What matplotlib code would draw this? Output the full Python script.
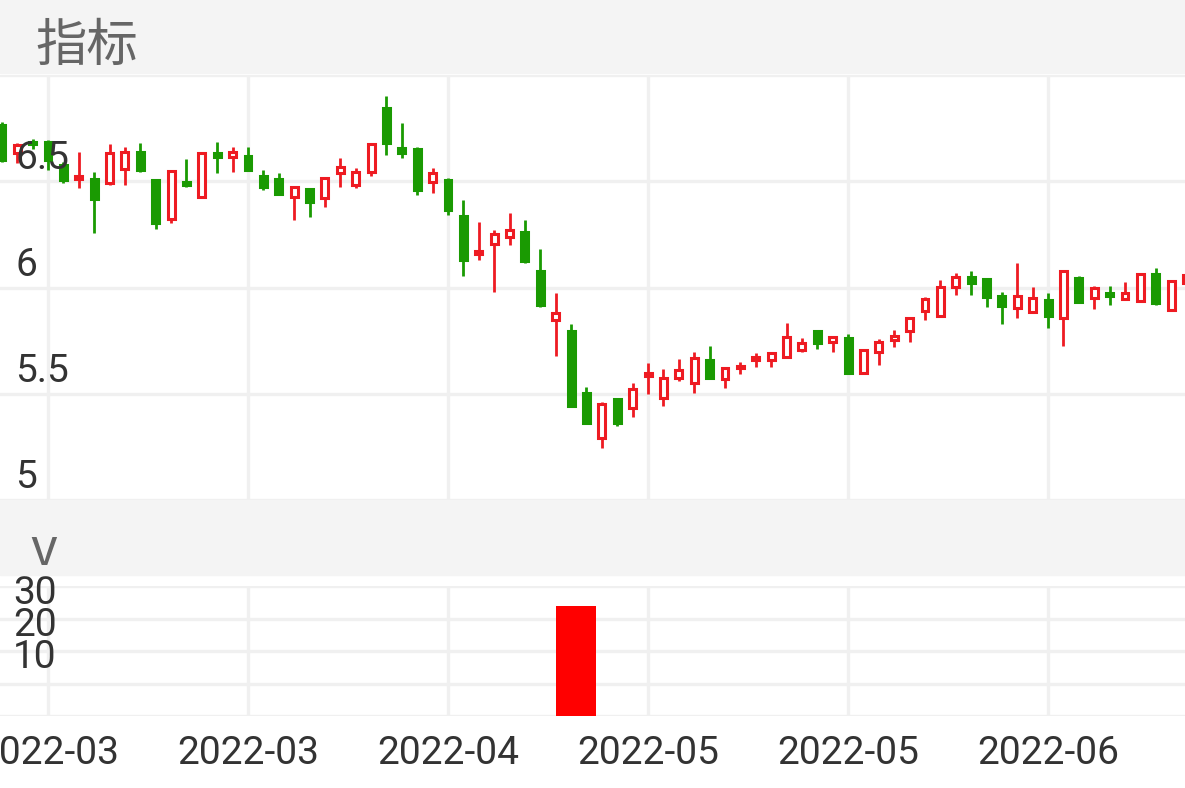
import matplotlib
matplotlib.use("Agg")
import matplotlib.pyplot as plt
from matplotlib.patches import Rectangle
from matplotlib.transforms import offset_copy
import numpy as np
import pandas as pd

plt.rcParams["font.family"] = ["Roboto", "DejaVu Sans"]

# trading days, Mar 1 - Jun 24 2022 (exchange holidays removed)
holidays = ["2022-04-04", "2022-04-05", "2022-05-02", "2022-05-03", "2022-05-04", "2022-06-03"]
dates = pd.bdate_range("2022-03-01", "2022-06-24", freq="C", holidays=holidays)

opens = [6.765, 6.633, 6.685, 6.685, 6.576, 6.511, 6.511, 6.492, 6.558, 6.638,
         6.506, 6.322, 6.496, 6.426, 6.633, 6.614, 6.619, 6.525, 6.511, 6.426,
         6.464, 6.421, 6.539, 6.482, 6.544, 6.845, 6.656, 6.652, 6.496, 6.506,
         6.336, 6.158, 6.205, 6.238, 6.261, 6.078, 5.847, 5.795, 5.504, 5.292,
         5.475, 5.433, 5.584, 5.480, 5.574, 5.551, 5.659, 5.569, 5.621, 5.659,
         5.659, 5.673, 5.706, 5.795, 5.744, 5.762, 5.598, 5.696, 5.753, 5.795,
         5.889, 5.866, 6.002, 6.049, 6.040, 5.960, 5.904, 5.885, 5.941, 5.856,
         6.045, 5.951, 5.974, 5.946, 5.936, 6.064, 5.894, 6.021]
closes = [6.600, 6.671, 6.675, 6.600, 6.506, 6.525, 6.416, 6.633, 6.638, 6.553,
          6.304, 6.548, 6.482, 6.633, 6.614, 6.638, 6.553, 6.473, 6.440, 6.473,
          6.402, 6.515, 6.567, 6.544, 6.675, 6.680, 6.633, 6.459, 6.539, 6.365,
          6.129, 6.172, 6.252, 6.271, 6.125, 5.918, 5.880, 5.442, 5.362, 5.452,
          5.362, 5.522, 5.598, 5.574, 5.612, 5.668, 5.574, 5.621, 5.631, 5.673,
          5.692, 5.767, 5.739, 5.739, 5.767, 5.598, 5.706, 5.744, 5.772, 5.856,
          5.946, 6.002, 6.049, 6.021, 5.955, 5.913, 5.960, 5.951, 5.866, 6.078,
          5.932, 5.998, 5.960, 5.974, 6.064, 5.927, 6.031, 6.059]
highs = [6.780, 6.680, 6.700, 6.694, 6.591, 6.638, 6.544, 6.675, 6.661, 6.680,
         6.511, 6.553, 6.605, 6.633, 6.685, 6.661, 6.661, 6.553, 6.539, 6.473,
         6.464, 6.520, 6.609, 6.562, 6.675, 6.901, 6.774, 6.661, 6.562, 6.515,
         6.412, 6.308, 6.271, 6.351, 6.318, 6.181, 5.974, 5.828, 5.532, 5.461,
         5.475, 5.551, 5.645, 5.616, 5.664, 5.696, 5.725, 5.621, 5.649, 5.692,
         5.696, 5.833, 5.762, 5.795, 5.772, 5.781, 5.706, 5.758, 5.800, 5.861,
         5.955, 6.035, 6.068, 6.078, 6.040, 5.979, 6.115, 6.002, 5.974, 6.078,
         6.054, 6.007, 6.007, 6.026, 6.064, 6.092, 6.031, 6.068]
lows = [6.590, 6.586, 6.650, 6.553, 6.492, 6.468, 6.256, 6.482, 6.482, 6.544,
        6.275, 6.304, 6.473, 6.426, 6.539, 6.544, 6.553, 6.459, 6.440, 6.318,
        6.332, 6.379, 6.473, 6.468, 6.525, 6.624, 6.609, 6.435, 6.445, 6.341,
        6.054, 6.129, 5.979, 6.200, 6.115, 5.908, 5.678, 5.442, 5.362, 5.245,
        5.348, 5.391, 5.499, 5.442, 5.560, 5.504, 5.574, 5.527, 5.593, 5.626,
        5.626, 5.673, 5.696, 5.711, 5.696, 5.598, 5.598, 5.635, 5.720, 5.744,
        5.847, 5.866, 5.965, 5.965, 5.908, 5.828, 5.856, 5.880, 5.809, 5.725,
        5.927, 5.899, 5.918, 5.946, 5.936, 5.918, 5.894, 5.988]
volumes = [0] * 36 + [34] + [0] * 41

price_ticks = [5, 5.5, 6, 6.5, 7]
price_labels = ["5", "5.5", "6", "6.5", ""]
vol_ticks = [0, 10, 20, 30, 40]
vol_labels = ["", "10", "20", "30", ""]

RED = "#ee1b22"
GREEN = "#1a9a02"
GRID = "#f0f0f0"
BAND = "#f4f4f4"
TXT = "#333333"

x = np.arange(len(dates))
o = np.array(opens)
c = np.array(closes)
up = c >= o
cols = np.where(up, RED, GREEN)

fig = plt.figure(figsize=(11.85, 7.88), dpi=100)
# header bands
fig.patches.append(Rectangle((0, 1 - 73 / 788), 1, 73 / 788, transform=fig.transFigure,
                             color=BAND, zorder=0))
fig.patches.append(Rectangle((0, 1 - 575 / 788), 1, 75 / 788, transform=fig.transFigure,
                             color=BAND, zorder=0))
fig.text(35 / 1185, 1 - 61 / 788, "指标", fontsize=37, color="#666666", va="baseline",
         family=["Noto Sans CJK SC", "DejaVu Sans"])
fig.text(30 / 1185, 1 - 565 / 788, "v", fontsize=37, color="#666666", va="baseline",
         family=["Noto Sans CJK SC", "DejaVu Sans"])

ax = fig.add_axes([0, 288 / 788, 1, 425 / 788])
axv = fig.add_axes([0, 72 / 788, 1, 130 / 788])

xlim = (-0.12, 76.9)
tick_idx = np.arange(3, len(dates), 13)

# candles
ax.vlines(x, lows, highs, colors=cols, lw=2.0, zorder=2)
ax.bar(x, np.abs(c - o), bottom=np.minimum(o, c), width=0.45,
       facecolor=np.where(up, "white", GREEN), edgecolor=cols, lw=2.2, zorder=3)
ax.set_xlim(*xlim)
ax.set_ylim(5, 7)

# volume
axv.bar(x, volumes, width=2.6, align="edge", color="#ff0000", lw=0, zorder=3)
axv.set_xlim(*xlim)
axv.set_ylim(0, 40)

for a, ticks in ((ax, price_ticks), (axv, vol_ticks)):
    a.set_yticks(ticks)
    a.set_xticks(tick_idx)
    a.grid(True, color=GRID, lw=2.4, zorder=0)
    a.set_axisbelow(True)
    for s in a.spines.values():
        s.set_visible(False)
    a.tick_params(length=0, labelleft=False)

ax.tick_params(labelbottom=False)
axv.set_xticklabels([dates[i].strftime("%Y-%m") for i in tick_idx])
axv.tick_params(axis="x", labelsize=28, labelcolor=TXT, pad=13.5)

# y labels sit inside the plot, above their grid lines
tr = offset_copy(ax.get_yaxis_transform(), fig=fig, x=15, y=12, units="dots")
for v, lab in zip(price_ticks, price_labels):
    ax.text(0, v, lab, transform=tr, ha="left", va="baseline", fontsize=28,
            color=TXT, zorder=5)
trv = offset_copy(axv.get_yaxis_transform(), fig=fig, x=13, y=15, units="dots")
for v, lab in zip(vol_ticks, vol_labels):
    axv.text(0, v, lab, transform=trv, ha="left", va="baseline", fontsize=28,
             color=TXT, zorder=5)

fig.savefig("out.png", dpi=100)
